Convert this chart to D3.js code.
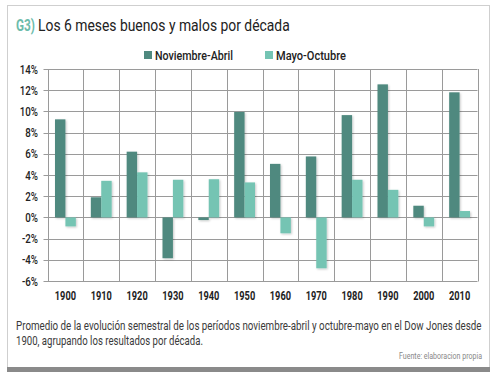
<!DOCTYPE html>
<html>
<head>
<meta charset="utf-8">
<script src="https://cdn.jsdelivr.net/npm/d3@7"></script>
<style>
  body { margin: 0; background: #fff; }
  svg { display: block; }
  text { font-family: Roboto, "DejaVu Sans Condensed", sans-serif; }
</style>
</head>
<body>
<svg id="chart" width="499" height="379"></svg>
<script>
// data
var decades = ['1900', '1910', '1920', '1930', '1940', '1950', '1960', '1970', '1980', '1990', '2000', '2010'];
var novAbril = [9.25, 1.9, 6.2, -3.85, -0.25, 9.95, 5.05, 5.75, 9.65, 12.55, 1.1, 11.8];
var mayoOct = [-0.85, 3.45, 4.25, 3.55, 3.6, 3.3, -1.5, -4.8, 3.55, 2.6, -0.85, 0.6];
var yTicks = [-6, -4, -2, 0, 2, 4, 6, 8, 10, 12, 14];
var seriesNames = ['Noviembre-Abril', 'Mayo-Octubre'];
var seriesColors = ['#4f897f', '#74c4b3'];

var svg = d3.select('#chart');

// The original uses a condensed face. Texts are placed with a transform
// and squeezed horizontally around their anchor point.
// pos(d, i) -> [x, y], width(d, i) -> target width, or a plain factor
var placeCondensed = function(sel, pos, width, factor) {
  sel.each(function(d, i) {
    var node = d3.select(this);
    var p = pos.call(this, d, i);
    var natural = this.getComputedTextLength();
    var k = width ? width.call(this, d, i) / natural : factor;
    node.attr('x', 0).attr('y', 0)
      .attr('transform', 'translate(' + p[0] + ',' + p[1] + ') scale(' + k + ',1)');
  });
};
var constant = function(v) { return function() { return v; }; };

// card frame
svg.append('rect')
  .attr('x', 7.5).attr('y', 5.5)
  .attr('width', 482).attr('height', 364)
  .attr('fill', '#fff')
  .attr('stroke', '#cfcfcf');
svg.append('rect')
  .attr('x', 7).attr('y', 367)
  .attr('width', 483).attr('height', 5)
  .attr('fill', '#8a8a8a');

// soft shadow under the bars
var defs = svg.append('defs');
defs.append('filter')
  .attr('id', 'barShadow')
  .attr('x', '-20%').attr('y', '-5%')
  .attr('width', '150%').attr('height', '115%')
  .append('feDropShadow')
    .attr('dx', 1).attr('dy', 1)
    .attr('stdDeviation', 0.8)
    .attr('flood-color', '#000')
    .attr('flood-opacity', 0.22);

// title
var titleTag = svg.append('text')
  .attr('font-size', 16)
  .attr('font-weight', 'bold')
  .attr('fill', '#6cbcab')
  .text('G3)');
placeCondensed(titleTag, constant([16, 31]), constant(19));

var titleText = svg.append('text')
  .attr('font-size', 16)
  .attr('fill', '#222')
  .text('Los 6 meses buenos y malos por década');
placeCondensed(titleText, constant([38, 31]), constant(252));

// scales
var plot = {left: 47.5, right: 477.5, top: 69, bottom: 281};

var x = d3.scaleBand()
  .domain(decades)
  .range([plot.left, plot.right]);

var y = d3.scaleLinear()
  .domain([-6, 14])
  .range([plot.bottom, plot.top]);

var inner = d3.scaleBand()
  .domain(d3.range(seriesNames.length))
  .range([0, x.bandwidth()])
  .paddingInner(0)
  .paddingOuter(0.72);

// grid
var grid = svg.append('g');
grid.selectAll('line.h')
  .data(yTicks)
  .enter().append('line')
    .attr('x1', plot.left - 4).attr('x2', plot.right)
    .attr('y1', function(d) { return Math.round(y(d)) + 0.5; })
    .attr('y2', function(d) { return Math.round(y(d)) + 0.5; })
    .attr('stroke', '#9a9a9a')
    .attr('stroke-width', 1);

var vLines = decades.map(function(d) { return x(d); }).concat([plot.right]);
grid.selectAll('line.v')
  .data(vLines)
  .enter().append('line')
    .attr('x1', function(d) { return Math.round(d) + 0.5; })
    .attr('x2', function(d) { return Math.round(d) + 0.5; })
    .attr('y1', plot.top).attr('y2', plot.bottom + 0.5)
    .attr('stroke', '#9a9a9a')
    .attr('stroke-width', 1);

// y labels
var yLab = svg.append('g').selectAll('text')
  .data(yTicks)
  .enter().append('text')
    .attr('text-anchor', 'end')
    .attr('font-size', 12.5)
    .attr('font-weight', 500)
    .attr('fill', '#222')
    .text(function(d) { return d + '%'; });
placeCondensed(yLab, function(d) { return [38, y(d) + 4.5]; }, null, 0.78);

// x labels
var xLab = svg.append('g').selectAll('text')
  .data(decades)
  .enter().append('text')
    .attr('text-anchor', 'middle')
    .attr('font-size', 12.5)
    .attr('font-weight', 'bold')
    .attr('fill', '#222')
    .text(function(d) { return d; });
placeCondensed(xLab, function(d) { return [x(d) + x.bandwidth() / 2, 300]; }, null, 0.74);

// bars
var series = [novAbril, mayoOct];
series.forEach(function(vals, si) {
  svg.append('g')
    .attr('filter', 'url(#barShadow)')
    .selectAll('rect')
    .data(vals)
    .enter().append('rect')
      .attr('x', function(d, i) { return x(decades[i]) + inner(si); })
      .attr('width', inner.bandwidth())
      .attr('y', function(d) { return y(Math.max(0, d)); })
      .attr('height', function(d) { return Math.abs(y(d) - y(0)); })
      .attr('fill', seriesColors[si]);
});

// legend
var legendX = [144, 265];
var legendW = [78, 70];
var legend = svg.append('g').selectAll('g')
  .data(seriesNames)
  .enter().append('g')
    .attr('transform', function(d, i) { return 'translate(' + legendX[i] + ',51)'; });
legend.append('rect')
  .attr('width', 8).attr('height', 8)
  .attr('fill', function(d, i) { return seriesColors[i]; });
var legText = legend.append('text')
  .attr('font-size', 13)
  .attr('font-weight', 500)
  .attr('fill', '#222')
  .text(function(d) { return d; });
placeCondensed(legText, constant([11, 8.5]), function(d, i) { return legendW[i]; });

// caption and source
var caption = [
  'Promedio de la evolución semestral de los períodos noviembre-abril y octubre-mayo en el Dow Jones desde',
  '1900, agrupando los resultados por década.'
];
var captionW = [466, 187];
var capText = svg.append('g').selectAll('text')
  .data(caption)
  .enter().append('text')
    .attr('font-size', 12)
    .attr('fill', '#3a3a3a')
    .text(function(d) { return d; });
placeCondensed(capText, function(d, i) { return [16, 330 + i * 15]; },
  function(d, i) { return captionW[i]; });

var source = svg.append('text')
  .attr('text-anchor', 'end')
  .attr('font-size', 9)
  .attr('fill', '#888')
  .text('Fuente: elaboracion propia');
placeCondensed(source, constant([482, 359]), constant(83));
</script>
</body>
</html>
